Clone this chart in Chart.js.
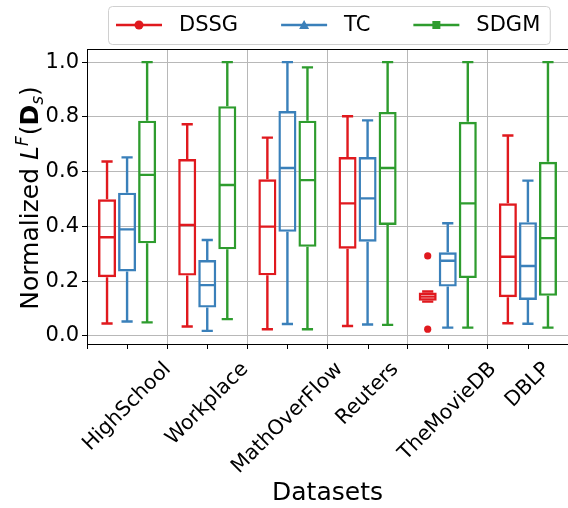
<!DOCTYPE html>
<html lang="en">
<head>
    <meta charset="UTF-8">
    <title>Normalized LF box plots</title>
    <script src="https://cdn.jsdelivr.net/npm/chart.js"></script>
    <style>
        html, body { margin: 0; padding: 0; background: #ffffff; }
        .chart-container { position: relative; width: 568px; height: 508px; }
    </style>
</head>
<body>
<div class="chart-container">
    <canvas id="boxChart" width="568" height="508"></canvas>
</div>
<script>
    // Categories and series
    const categories = ['HighSchool', 'Workplace', 'MathOverFlow', 'Reuters', 'TheMovieDB', 'DBLP'];
    const seriesNames = ['DSSG', 'TC', 'SDGM'];
    const seriesColors = ['#e0191e', '#3a80ba', '#2e9c2e'];
    const yTicks = [0.0, 0.2, 0.4, 0.6, 0.8, 1.0];

    // DSSG stats (whisker low, Q1, median, Q3, whisker high, outliers)
    const dssgLow  = [0.045, 0.034, 0.024, 0.036, 0.125, 0.046];
    const dssgQ1   = [0.214, 0.220, 0.221, 0.318, 0.128, 0.141];
    const dssgMed  = [0.360, 0.405, 0.399, 0.484, 0.143, 0.289];
    const dssgQ3   = [0.499, 0.646, 0.572, 0.653, 0.158, 0.484];
    const dssgHigh = [0.637, 0.773, 0.724, 0.802, 0.162, 0.732];
    const dssgOut  = [[], [], [], [], [0.292, 0.024], []];

    // TC stats
    const tcLow  = [0.052, 0.018, 0.043, 0.041, 0.030, 0.044];
    const tcQ1   = [0.235, 0.103, 0.380, 0.344, 0.180, 0.131];
    const tcMed  = [0.389, 0.185, 0.613, 0.502, 0.274, 0.255];
    const tcQ3   = [0.523, 0.277, 0.821, 0.653, 0.305, 0.415];
    const tcHigh = [0.652, 0.350, 1.000, 0.787, 0.411, 0.567];
    const tcOut  = [[], [], [], [], [], []];

    // SDGM stats
    const sdgmLow  = [0.049, 0.061, 0.024, 0.040, 0.030, 0.030];
    const sdgmQ1   = [0.338, 0.316, 0.325, 0.405, 0.211, 0.146];
    const sdgmMed  = [0.588, 0.551, 0.569, 0.613, 0.484, 0.357];
    const sdgmQ3   = [0.786, 0.839, 0.786, 0.818, 0.782, 0.636];
    const sdgmHigh = [1.000, 1.000, 0.981, 1.000, 1.000, 1.000];
    const sdgmOut  = [[], [], [], [], [], []];

    const stats = [
        { low: dssgLow, q1: dssgQ1, med: dssgMed, q3: dssgQ3, high: dssgHigh, out: dssgOut },
        { low: tcLow, q1: tcQ1, med: tcMed, q3: tcQ3, high: tcHigh, out: tcOut },
        { low: sdgmLow, q1: sdgmQ1, med: sdgmMed, q3: sdgmQ3, high: sdgmHigh, out: sdgmOut }
    ];

    const FONT = '"DejaVu Sans", sans-serif';
    const LW = 2.4;

    // whiskers, medians, caps, outliers + extra decorations
    const boxPlugin = {
        id: 'boxExtras',
        afterDatasetsDraw(chart) {
            const ctx = chart.ctx;
            const y = chart.scales.y;
            const area = chart.chartArea;
            ctx.save();
            ctx.beginPath();
            ctx.rect(area.left, area.top, area.right - area.left, area.bottom - area.top);
            ctx.clip();
            stats.forEach((s, d) => {
                const meta = chart.getDatasetMeta(d);
                ctx.strokeStyle = seriesColors[d];
                ctx.fillStyle = seriesColors[d];
                ctx.lineWidth = LW;
                meta.data.forEach((el, i) => {
                    const x = el.x, w = el.width, cw = w * 0.62;
                    ctx.beginPath();
                    // median
                    ctx.moveTo(x - w / 2 + 1, y.getPixelForValue(s.med[i]));
                    ctx.lineTo(x + w / 2 - 1, y.getPixelForValue(s.med[i]));
                    // whiskers
                    ctx.moveTo(x, y.getPixelForValue(s.q3[i]));
                    ctx.lineTo(x, y.getPixelForValue(s.high[i]));
                    ctx.moveTo(x, y.getPixelForValue(s.q1[i]));
                    ctx.lineTo(x, y.getPixelForValue(s.low[i]));
                    // caps
                    ctx.moveTo(x - cw / 2, y.getPixelForValue(s.high[i]));
                    ctx.lineTo(x + cw / 2, y.getPixelForValue(s.high[i]));
                    ctx.moveTo(x - cw / 2, y.getPixelForValue(s.low[i]));
                    ctx.lineTo(x + cw / 2, y.getPixelForValue(s.low[i]));
                    ctx.stroke();
                    s.out[i].forEach(v => {
                        ctx.beginPath();
                        ctx.arc(x, y.getPixelForValue(v), 3.6, 0, Math.PI * 2);
                        ctx.fill();
                    });
                });
            });
            ctx.restore();
        },
        afterDraw(chart) {
            const ctx = chart.ctx;
            const area = chart.chartArea;
            const xs = chart.scales.x;
            ctx.save();
            // top spine
            ctx.strokeStyle = '#000000';
            ctx.lineWidth = 1;
            ctx.beginPath();
            ctx.moveTo(area.left, area.top + 0.5);
            ctx.lineTo(area.right, area.top + 0.5);
            // tick marks at category centres
            categories.forEach((c, i) => {
                const px = Math.round(xs.getPixelForValue(i)) + 0.5;
                ctx.moveTo(px, area.bottom);
                ctx.lineTo(px, area.bottom + 5);
            });
            ctx.stroke();

            // rotated category labels, centred on the tick
            ctx.fillStyle = '#000000';
            ctx.font = '20.5px ' + FONT;
            ctx.textAlign = 'center';
            ctx.textBaseline = 'middle';
            categories.forEach((c, i) => {
                const w = ctx.measureText(c).width;
                const half = (w + 23) * Math.SQRT1_2 / 2;
                ctx.save();
                ctx.translate(xs.getPixelForValue(i), area.bottom + 14 + half);
                ctx.rotate(-Math.PI / 4);
                ctx.fillText(c, 0, 0);
                ctx.restore();
            });

            // x title
            ctx.font = '25px ' + FONT;
            ctx.textBaseline = 'alphabetic';
            ctx.fillText('Datasets', (area.left + area.right) / 2, 500);

            // y title: Normalized L^F(D_s)
            const parts = [
                { t: 'Normalized ', f: '25px ' + FONT, dy: 0 },
                { t: 'L', f: 'oblique 25px ' + FONT, dy: 0 },
                { t: 'F', f: 'oblique 17px ' + FONT, dy: -10 },
                { t: '(', f: '25px ' + FONT, dy: 0 },
                { t: 'D', f: 'bold 25px ' + FONT, dy: 0 },
                { t: 's', f: 'oblique 17px ' + FONT, dy: 5 },
                { t: ')', f: '25px ' + FONT, dy: 0 }
            ];
            let total = 0;
            parts.forEach(p => { ctx.font = p.f; p.w = ctx.measureText(p.t).width; total += p.w; });
            ctx.save();
            ctx.translate(38, (area.top + area.bottom) / 2 + 2);
            ctx.rotate(-Math.PI / 2);
            ctx.textAlign = 'left';
            let cx = -total / 2;
            parts.forEach(p => {
                ctx.font = p.f;
                ctx.fillText(p.t, cx, p.dy);
                cx += p.w + (p.t === 'F' ? 1 : 0);
            });
            ctx.restore();

            // legend
            ctx.font = '21px ' + FONT;
            ctx.textAlign = 'left';
            ctx.textBaseline = 'middle';
            const ly = 25;
            let lx = 116;
            const items = [];
            seriesNames.forEach((n, d) => {
                const tw = ctx.measureText(n).width;
                items.push({ n, d, x: lx, tw });
                lx += 46 + 17 + tw + 43;
            });
            const last = items[items.length - 1];
            const boxRight = last.x + 46 + 17 + last.tw + 10;
            ctx.beginPath();
            ctx.roundRect(108.5, 6.5, boxRight - 108.5, 38, 4);
            ctx.fillStyle = 'rgba(255,255,255,0.85)';
            ctx.fill();
            ctx.strokeStyle = '#d0d0d0';
            ctx.lineWidth = 1;
            ctx.stroke();
            items.forEach(it => {
                const col = seriesColors[it.d];
                ctx.strokeStyle = col;
                ctx.fillStyle = col;
                ctx.lineWidth = LW;
                ctx.beginPath();
                ctx.moveTo(it.x, ly);
                ctx.lineTo(it.x + 46, ly);
                ctx.stroke();
                const mx = it.x + 23;
                ctx.beginPath();
                if (it.d === 0) {
                    ctx.arc(mx, ly, 4.5, 0, Math.PI * 2);
                } else if (it.d === 1) {
                    ctx.moveTo(mx, ly - 5);
                    ctx.lineTo(mx + 5, ly + 4);
                    ctx.lineTo(mx - 5, ly + 4);
                    ctx.closePath();
                } else {
                    ctx.rect(mx - 4, ly - 4, 8, 8);
                }
                ctx.fill();
                ctx.fillStyle = '#000000';
                ctx.fillText(it.n, it.x + 46 + 17, ly + 1);
            });
            ctx.restore();
        }
    };

    const datasets = seriesNames.map((name, d) => ({
        label: name,
        data: stats[d].q1.map((v, i) => [v, stats[d].q3[i]]),
        backgroundColor: 'rgba(0,0,0,0)',
        borderColor: seriesColors[d],
        borderWidth: LW,
        borderSkipped: false,
        categoryPercentage: 0.75,
        barPercentage: 0.9
    }));

    new Chart(document.getElementById('boxChart'), {
        type: 'bar',
        data: { labels: categories, datasets: datasets },
        options: {
            responsive: false,
            animation: false,
            devicePixelRatio: 1,
            layout: { padding: { left: 37, top: 49, right: 0, bottom: 0 } },
            plugins: {
                legend: { display: false },
                tooltip: { enabled: false }
            },
            scales: {
                x: {
                    offset: true,
                    grid: { offset: true, color: '#b8b8b8', lineWidth: 1, tickColor: '#000000', tickLength: 5 },
                    border: { color: '#000000', width: 1 },
                    ticks: { display: false },
                    afterFit: s => { s.height = 164; }
                },
                y: {
                    min: -0.03,
                    max: 1.048,
                    grid: { color: '#b8b8b8', lineWidth: 1, tickColor: '#000000', tickLength: 5 },
                    border: { color: '#000000', width: 1 },
                    afterBuildTicks: s => { s.ticks = yTicks.map(v => ({ value: v })); },
                    ticks: {
                        color: '#000000',
                        padding: 3,
                        font: { family: FONT, size: 21 },
                        callback: v => Number(v).toFixed(1)
                    },
                    afterFit: s => { s.width = 50; }
                }
            }
        },
        plugins: [boxPlugin]
    });
</script>
</body>
</html>
